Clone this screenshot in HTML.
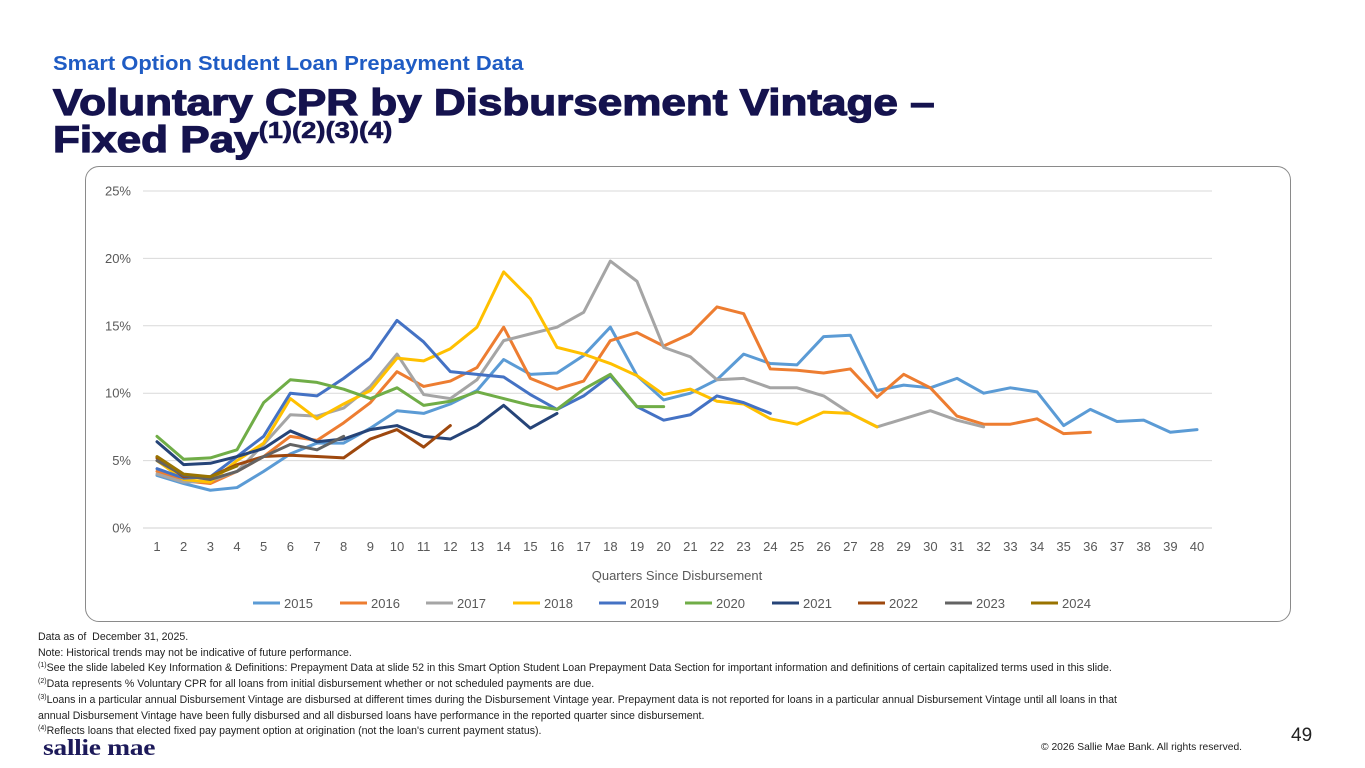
<!DOCTYPE html>
<html><head><meta charset="utf-8">
<style>
body{margin:0;width:1365px;height:768px;background:#fff;font-family:"Liberation Sans",Arial,sans-serif;position:relative;overflow:hidden}
.sub{position:absolute;left:53px;top:52px;font-size:20.5px;font-weight:bold;color:#1f5cc4;transform:scaleX(1.07);transform-origin:left top;white-space:nowrap}
.title{position:absolute;left:53px;top:84px;font-size:37px;font-weight:bold;color:#15134e;line-height:37px;transform:scaleX(1.19);transform-origin:left top;white-space:nowrap;-webkit-text-stroke:1.2px #15134e}
.title sup{font-size:23px;vertical-align:0;position:relative;top:-14px;line-height:0;-webkit-text-stroke:0.6px #15134e}
.box{position:absolute;left:85px;top:166px;width:1204px;height:454px;border:1px solid #8a8a8a;border-radius:14px}
.notes{position:absolute;left:38px;top:630px;font-size:10.6px;color:#222;line-height:15.7px;transform:scaleX(1.0);transform-origin:left top;white-space:nowrap}
.notes sup{font-size:7px;line-height:0;vertical-align:0;position:relative;top:-4px}
.logo{position:absolute;left:43px;top:735px;font-family:"Liberation Serif",serif;font-weight:bold;font-size:23px;color:#1d1a5a;letter-spacing:-0.3px;transform:scaleX(1.2);transform-origin:left top}
.pg{position:absolute;left:1291px;top:725px;font-size:19px;color:#222}
.copy{position:absolute;left:1041px;top:742px;font-size:10.3px;color:#222}
</style></head><body>
<div class="sub">Smart Option Student Loan Prepayment Data</div>
<div class="title">Voluntary CPR by Disbursement Vintage –<br>Fixed Pay<sup>(1)(2)(3)(4)</sup></div>
<div class="box"></div>
<svg id="chart" width="1365" height="768" style="position:absolute;left:0;top:0"></svg>
<div class="notes">Data as of &nbsp;December 31, 2025.<br>Note: Historical trends may not be indicative of future performance.<br><sup>(1)</sup>See the slide labeled Key Information &amp; Definitions: Prepayment Data at slide 52 in this Smart Option Student Loan Prepayment Data Section for important information and definitions of certain capitalized terms used in this slide.<br><sup>(2)</sup>Data represents % Voluntary CPR for all loans from initial disbursement whether or not scheduled payments are due.<br><sup>(3)</sup>Loans in a particular annual Disbursement Vintage are disbursed at different times during the Disbursement Vintage year. Prepayment data is not reported for loans in a particular annual Disbursement Vintage until all loans in that<br>annual Disbursement Vintage have been fully disbursed and all disbursed loans have performance in the reported quarter since disbursement.<br><sup>(4)</sup>Reflects loans that elected fixed pay payment option at origination (not the loan's current payment status).</div>
<div class="logo">sallie mae</div>
<div class="pg">49</div>
<div class="copy">© 2026 Sallie Mae Bank. All rights reserved.</div>
<script>
const vintages=["2015","2016","2017","2018","2019","2020","2021","2022","2023","2024"];
const colors=["#5B9BD5","#ED7D31","#A5A5A5","#FFC000","#4472C4","#70AD47","#264478","#9E480E","#636363","#997300"];
const s2015=[3.9,3.3,2.8,3.0,4.2,5.5,6.3,6.3,7.4,8.7,8.5,9.2,10.2,12.5,11.4,11.5,12.8,14.9,11.3,9.5,10.0,11.0,12.9,12.2,12.1,14.2,14.3,10.2,10.6,10.4,11.1,10.0,10.4,10.1,7.6,8.8,7.9,8.0,7.1,7.3];
const s2016=[4.2,3.5,3.3,4.2,5.3,6.8,6.5,7.8,9.3,11.6,10.5,10.9,11.9,14.9,11.1,10.3,10.9,13.9,14.5,13.5,14.4,16.4,15.9,11.8,11.7,11.5,11.8,9.7,11.4,10.4,8.3,7.7,7.7,8.1,7.0,7.1];
const s2017=[4.0,3.4,3.5,4.2,6.2,8.4,8.3,8.9,10.5,12.9,9.9,9.6,11.0,13.9,14.4,14.9,16.0,19.8,18.3,13.4,12.7,11.0,11.1,10.4,10.4,9.8,8.5,7.5,8.1,8.7,8.0,7.5];
const s2018=[5.0,3.6,3.4,5.0,6.3,9.6,8.1,9.2,10.2,12.6,12.4,13.3,14.9,19.0,17.0,13.4,12.9,12.2,11.3,9.9,10.3,9.4,9.2,8.1,7.7,8.6,8.5,7.5];
const s2019=[4.4,3.7,3.8,5.3,6.8,10.0,9.8,11.1,12.6,15.4,13.8,11.6,11.4,11.2,9.9,8.8,9.8,11.3,9.0,8.0,8.4,9.8,9.3,8.5];
const s2020=[6.8,5.1,5.2,5.8,9.3,11.0,10.8,10.3,9.6,10.4,9.1,9.4,10.1,9.6,9.1,8.8,10.3,11.4,9.0,9.0];
const s2021=[6.4,4.7,4.8,5.3,5.9,7.2,6.4,6.6,7.3,7.6,6.8,6.6,7.6,9.1,7.4,8.5];
const s2022=[5.2,3.8,3.8,4.7,5.3,5.4,5.3,5.2,6.6,7.3,6.0,7.6];
const s2023=[5.0,3.9,3.6,4.2,5.3,6.2,5.8,6.8];
const s2024=[5.3,4.0,3.8,4.6];
const series=[s2015,s2016,s2017,s2018,s2019,s2020,s2021,s2022,s2023,s2024];
const yTicks=[0,5,10,15,20,25];
const quarters=Array.from({length:40},(_,i)=>i+1);
const NS="http://www.w3.org/2000/svg";
const svg=document.getElementById('chart');
const X0=157,X1=1197,Y0=528,Y1=191;
const x=q=>X0+(q-1)*(X1-X0)/39;
const y=v=>Y0-v*(Y0-Y1)/25;
function mk(t,a){const e=document.createElementNS(NS,t);for(const k in a)e.setAttribute(k,a[k]);svg.appendChild(e);return e;}
yTicks.forEach(t=>{
 const g=mk('line',{x1:143,x2:1212,y1:y(t),y2:y(t),stroke:t===0?'#d0d0d0':'#d9d9d9','stroke-width':1});
 
 
 const l=mk('text',{x:131,y:y(t)+4.5,'text-anchor':'end','font-size':13,fill:'#595959','font-family':'Liberation Sans, sans-serif'});
 l.textContent=t+'%';
 
 
});
quarters.forEach(q=>{
 const l=mk('text',{x:x(q),y:551,'text-anchor':'middle','font-size':13,fill:'#595959','font-family':'Liberation Sans, sans-serif'});
 l.textContent=q;
 
 
});
const at=mk('text',{x:677,y:580,'text-anchor':'middle','font-size':13,fill:'#595959','font-family':'Liberation Sans, sans-serif'});
at.textContent='Quarters Since Disbursement';


series.forEach((s,i)=>{
 const p=mk('polyline',{points:s.map((v,j)=>x(j+1)+','+y(v)).join(' '),fill:'none',stroke:colors[i],'stroke-width':3,'stroke-linejoin':'round','stroke-linecap':'round'});
 
 
});
const lx=[283,370,456,543,629,715,802,888,975,1061];
vintages.forEach((v,i)=>{
 const l=mk('line',{x1:lx[i]-30,x2:lx[i]-3,y1:603,y2:603,stroke:colors[i],'stroke-width':3});
 
 
 const t=mk('text',{x:lx[i]+1,y:608,'font-size':13,fill:'#595959','font-family':'Liberation Sans, sans-serif'});
 t.textContent=v;
 
 
});
</script>
</body></html>
